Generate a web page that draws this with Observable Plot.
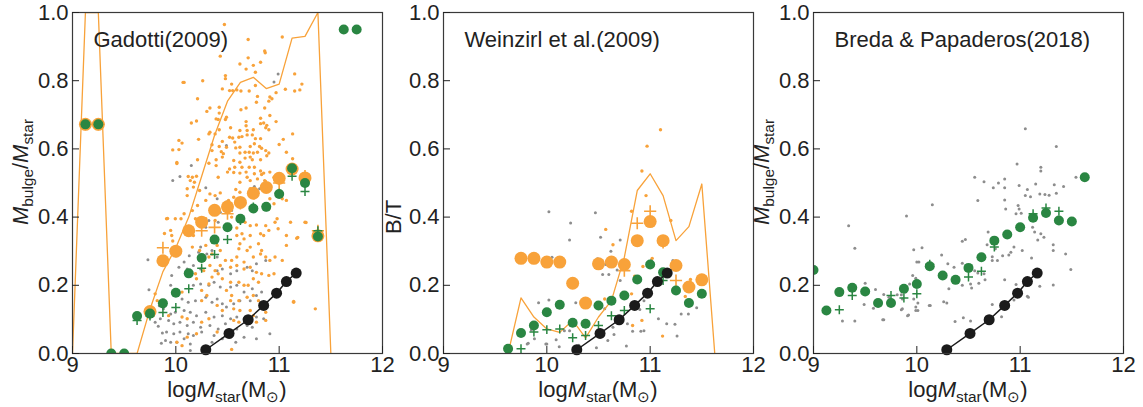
<!DOCTYPE html>
<html><head><meta charset="utf-8">
<script src="https://cdn.jsdelivr.net/npm/d3@7"></script>
<script src="https://cdn.jsdelivr.net/npm/@observablehq/plot@0.6"></script>
<style>
body{margin:0;background:#fff;}
#chart{position:relative;width:1143px;height:407px;overflow:hidden;background:#fff;}
#chart svg{position:absolute;top:0;}
</style></head><body><div id="chart"></div>
<script>
// ---------- shared ----------
const xTicks = [9, 10, 11, 12];
const yTicks = [0, 0.2, 0.4, 0.6, 0.8, 1.0];
const titles = ["Gadotti(2009)", "Weinzirl et al.(2009)", "Breda & Papaderos(2018)"];
const blackX = [10.29, 10.515, 10.70, 10.85, 10.975, 11.07, 11.165];
const blackY = [0.011, 0.059, 0.099, 0.141, 0.177, 0.211, 0.236];

// ---------- Gadotti (2009) ----------
const gadLineX = [9.0, 9.125, 9.25, 9.375, 9.5, 9.625, 9.75, 9.875, 10.0, 10.125, 10.25, 10.375, 10.5, 10.625, 10.75, 10.875, 11.0, 11.125, 11.25, 11.375, 11.5];
const gadLineY = [0, 1.0, 1.0, 0, 0, 0, 0.13, 0.24, 0.31, 0.40, 0.52, 0.64, 0.74, 0.795, 0.81, 0.777, 0.79, 0.925, 0.93, 1.0, 0];
const gadOMeanX = [9.125, 9.25, 9.75, 9.875, 10.0, 10.125, 10.25, 10.375, 10.5, 10.625, 10.75, 10.875, 11.0, 11.125, 11.25, 11.375];
const gadOMeanY = [0.672, 0.672, 0.123, 0.272, 0.30, 0.36, 0.385, 0.42, 0.43, 0.443, 0.47, 0.487, 0.514, 0.541, 0.515, 0.345];
const gadOMedX = [9.125, 9.25, 9.75, 9.875, 10.0, 10.125, 10.25, 10.375, 10.5, 10.625, 10.75, 10.875, 11.0, 11.125, 11.25, 11.375];
const gadOMedY = [0.672, 0.672, 0.12, 0.31, 0.30, 0.36, 0.36, 0.37, 0.41, 0.44, 0.47, 0.49, 0.50, 0.54, 0.52, 0.36];
const gadGMeanX = [9.125, 9.25, 9.375, 9.5, 9.625, 9.75, 9.875, 10.0, 10.125, 10.25, 10.375, 10.5, 10.625, 10.75, 10.875, 11.0, 11.125, 11.25, 11.375, 11.625, 11.75];
const gadGMeanY = [0.672, 0.672, 0, 0, 0.11, 0.117, 0.147, 0.178, 0.235, 0.28, 0.334, 0.37, 0.395, 0.425, 0.43, 0.468, 0.543, 0.50, 0.343, 0.95, 0.95];
const gadGMedX = [9.625, 9.75, 9.875, 10.0, 10.125, 10.25, 10.375, 10.5, 10.625, 10.75, 10.875, 11.0, 11.125, 11.25, 11.375];
const gadGMedY = [0.097, 0.11, 0.12, 0.135, 0.19, 0.25, 0.29, 0.334, 0.39, 0.43, 0.43, 0.47, 0.52, 0.475, 0.36];
const gadOrangePts = [[10.47,0.965],[10.70,0.921],[11.03,0.928],[10.86,0.887],[10.865,0.882],[10.43,0.872],[10.70,0.867],[10.62,0.849],[10.82,0.854],[10.75,0.845],[10.68,0.834],[10.77,0.825],[10.48,0.815],[10.48,0.806],[11.15,0.82],[10.26,0.80],[10.08,0.795],[10.54,0.79],[11.22,0.79],[10.45,0.776],[10.52,0.771],[10.55,0.771],[10.59,0.773],[10.63,0.77],[10.71,0.77],[10.77,0.786],[11.06,0.775],[11.15,0.77],[11.20,0.773],[10.97,0.765],[10.79,0.754],[10.91,0.752],[10.93,0.747],[10.90,0.74],[10.21,0.747],[10.78,0.737],[10.33,0.72],[10.30,0.71],[10.42,0.722],[10.42,0.705],[10.68,0.72],[10.63,0.715],[10.86,0.72],[10.91,0.698],[10.39,0.688],[10.41,0.686],[10.49,0.693],[10.48,0.686],[10.82,0.69],[10.97,0.68],[10.20,0.682],[10.15,0.676],[10.68,0.68],[10.68,0.668],[10.82,0.674],[10.85,0.676],[10.88,0.669],[10.87,0.662],[10.53,0.662],[10.62,0.654],[10.69,0.654],[10.42,0.656],[10.38,0.644],[10.75,0.656],[10.33,0.649],[10.32,0.644],[10.90,0.656],[11.13,0.644],[10.61,0.634],[10.64,0.636],[10.69,0.641],[10.74,0.641],[10.52,0.634],[10.55,0.632],[10.77,0.63],[10.82,0.63],[11.04,0.628],[10.03,0.625],[10.06,0.617],[10.22,0.628],[10.57,0.62],[10.58,0.603],[10.35,0.612],[10.45,0.622],[10.42,0.607],[10.49,0.605],[10.62,0.605],[10.72,0.607],[10.76,0.615],[10.81,0.607],[10.83,0.602],[11.00,0.613],[9.97,0.597],[10.35,0.595],[10.44,0.592],[10.46,0.586],[10.45,0.576],[10.62,0.588],[10.67,0.59],[10.71,0.59],[10.75,0.588],[10.79,0.59],[10.87,0.595],[10.90,0.588],[10.88,0.58],[11.07,0.59],[10.01,0.56],[10.21,0.568],[10.32,0.558],[10.39,0.568],[10.39,0.551],[10.56,0.566],[10.57,0.546],[10.52,0.541],[10.62,0.561],[10.67,0.573],[10.72,0.576],[10.74,0.568],[10.82,0.568],[10.64,0.546],[10.71,0.546],[10.68,0.532],[10.76,0.546],[10.76,0.527],[10.82,0.535],[10.85,0.529],[10.91,0.532],[11.13,0.571],[10.12,0.519],[10.16,0.517],[10.20,0.52],[10.14,0.507],[10.18,0.502],[10.41,0.517],[10.50,0.532],[10.56,0.531],[10.62,0.529],[10.69,0.517],[10.62,0.502],[10.72,0.507],[10.83,0.525],[10.79,0.512],[10.86,0.507],[10.95,0.517],[11.0,0.5],[11.03,0.509],
[10.17,0.488],[10.11,0.483],[10.23,0.478],[10.11,0.463],[10.58,0.481],[10.62,0.473],[10.72,0.483],[10.77,0.481],[10.33,0.468],[10.38,0.463],[10.43,0.471],[10.29,0.449],[10.51,0.449],[10.56,0.458],[10.91,0.454],[10.95,0.439],[11.03,0.454],[11.07,0.449],[10.90,0.424],[10.21,0.434],[10.16,0.419],[10.08,0.41],[9.91,0.395],[9.995,0.395],[10.05,0.395],[10.19,0.395],[10.29,0.395],[10.38,0.39],[10.54,0.4],[10.61,0.395],[10.67,0.385],[10.72,0.375],[10.78,0.377],[10.98,0.395],[10.96,0.385],[10.99,0.366],[11.11,0.385],[11.25,0.385],[10.87,0.375],[10.90,0.361],[10.82,0.351],[10.85,0.346],[10.59,0.368],[10.64,0.351],[10.59,0.346],[10.66,0.336],[10.72,0.346],[9.95,0.361],[9.96,0.346],[10.17,0.346],[11.07,0.346],[11.17,0.338],[11.07,0.317],[10.16,0.312],[10.23,0.302],[10.29,0.317],[10.40,0.317],[10.43,0.302],[10.62,0.322],[10.61,0.307],[10.69,0.302],[10.72,0.312],[10.80,0.322],[10.83,0.302],[10.35,0.292],[10.32,0.283],[10.48,0.273],[10.43,0.258],[10.54,0.273],[10.59,0.283],[10.66,0.268],[10.75,0.283],[10.82,0.292],[10.87,0.283],[10.91,0.273],[10.96,0.283],[11.03,0.273],[10.33,0.258],[10.38,0.243],[10.41,0.234],[10.35,0.224],[10.53,0.253],[10.59,0.258],[10.66,0.248],[10.72,0.253],[10.78,0.238],[10.83,0.234],[10.90,0.229],[10.95,0.234],[10.19,0.234],[10.27,0.243],[10.20,0.219],[10.32,0.204],[10.45,0.219],[10.53,0.209],[10.61,0.209],[10.66,0.2],[10.70,0.2],[10.75,0.219],[10.80,0.209],[9.80,0.175],[9.82,0.155],[10.06,0.18],[10.25,0.185],[10.30,0.17],[10.25,0.155],[10.49,0.185],[10.54,0.17],[10.53,0.155],[10.61,0.155],[10.69,0.165],[10.75,0.17],[10.80,0.155],[11.14,0.153],[10.40,0.141],[10.45,0.126],[10.56,0.131],[10.62,0.126],[10.72,0.126],[10.75,0.111],[10.87,0.121],[11.35,0.131],[9.93,0.111],[10.06,0.107],[10.11,0.102],[10.25,0.092],[10.32,0.102],[10.56,0.097],[10.61,0.092],[10.78,0.092],[10.87,0.097],[10.01,0.033],[10.06,0.023],[10.11,0.048],[10.20,0.058],[10.40,0.063],[10.54,0.012],
[9.92,0.396],[9.89,0.352],[9.97,0.33],[11.26,0.384],[11.18,0.34],[11.14,0.15],[10.07,0.795],[10.03,0.598],[10.01,0.557],[9.25,0.672]];
const gadGrayPts = [[10.99,0.82],[10.95,0.796],[10.49,0.61],[10.15,0.551],[10.04,0.519],[9.97,0.507],[10.29,0.486],[10.76,0.49],[10.81,0.483],
[10.40,0.454],[10.49,0.444],[10.43,0.414],[10.54,0.419],[10.41,0.385],[10.32,0.39],[10.29,0.37],[10.24,0.312],[10.13,0.287],[10.08,0.268],[10.22,0.297],[10.30,0.292],[10.35,0.302],[10.40,0.283],[10.01,0.287],[10.03,0.253],[9.96,0.229],[9.95,0.2],[10.11,0.248],[10.17,0.258],[10.24,0.248],[10.40,0.243],[10.45,0.248],[10.53,0.234],[10.59,0.243],[10.69,0.253],[10.74,0.243],[10.78,0.263],[10.87,0.273],[10.17,0.2],[10.24,0.204],[10.32,0.2],[10.37,0.209],[10.43,0.195],[10.53,0.195],[10.59,0.2],[10.66,0.18],[10.74,0.19],[10.06,0.16],[10.12,0.15],[10.19,0.155],[10.29,0.165],[10.35,0.15],[10.40,0.16],[10.45,0.146],[10.49,0.136],[10.56,0.146],[10.62,0.155],[10.72,0.155],[10.78,0.17],[10.83,0.18],[9.88,0.131],[9.95,0.116],[9.995,0.121],[10.08,0.126],[10.14,0.121],[10.20,0.111],[10.29,0.121],[10.37,0.107],[10.45,0.111],[10.53,0.102],[10.59,0.107],[10.66,0.102],[10.78,0.107],[10.85,0.102],[9.80,0.092],[9.85,0.102],[9.93,0.097],[9.98,0.087],[10.04,0.092],[10.11,0.082],[10.17,0.092],[10.24,0.077],[10.33,0.082],[10.41,0.072],[10.48,0.087],[10.59,0.072],[10.69,0.082],[10.74,0.077],[10.91,0.058],[9.91,0.063],[9.98,0.058],[10.04,0.063],[10.12,0.058],[10.17,0.053],[10.25,0.063],[10.37,0.053],[10.45,0.043],[10.53,0.048],[10.58,0.033],[10.66,0.048],[10.78,0.043],[9.90,0.038],[9.95,0.033],[10.01,0.033],[10.08,0.043],[10.14,0.028],[10.35,0.033],[10.14,0.009],[10.30,0.014],
[9.73,0.275],[9.74,0.187],[9.84,0.14],[9.87,0.06],[9.86,0.03],[9.83,0.08]];

// ---------- Weinzirl et al. (2009) ----------
const wzLineX = [9.625, 9.75, 9.875, 10.0, 10.125, 10.25, 10.375, 10.5, 10.625, 10.75, 10.875, 11.0, 11.125, 11.25, 11.375, 11.5, 11.625];
const wzLineY = [0, 0.163, 0.107, 0.072, 0.062, 0.097, 0.046, 0.107, 0.155, 0.282, 0.478, 0.527, 0.463, 0.331, 0.372, 0.497, 0];
const wzOMeanX = [9.75, 9.875, 10.0, 10.125, 10.25, 10.375, 10.5, 10.625, 10.75, 10.875, 11.0, 11.125, 11.25, 11.375, 11.5];
const wzOMeanY = [0.279, 0.279, 0.268, 0.268, 0.206, 0.148, 0.263, 0.268, 0.261, 0.331, 0.387, 0.331, 0.258, 0.195, 0.216];
const wzOMedX = [10.75, 10.875, 11.0, 11.125, 11.25];
const wzOMedY = [0.243, 0.382, 0.417, 0.326, 0.214];
const wzGMeanX = [9.625, 9.75, 9.875, 10.0, 10.125, 10.25, 10.375, 10.5, 10.625, 10.75, 10.875, 11.0, 11.125, 11.25, 11.375, 11.5];
const wzGMeanY = [0.014, 0.06, 0.082, 0.121, 0.143, 0.09, 0.087, 0.141, 0.155, 0.17, 0.217, 0.261, 0.238, 0.185, 0.148, 0.175];
const wzGMedX = [9.75, 9.875, 10.0, 10.125, 10.25, 10.375, 10.5, 10.625, 10.75, 11.0, 11.125];
const wzGMedY = [0.014, 0.063, 0.07, 0.072, 0.046, 0.053, 0.082, 0.111, 0.126, 0.131, 0.214];
const wzOrangePts = [[11.10,0.656],[10.97,0.608],[10.92,0.535],[10.96,0.463],[10.82,0.417],[10.57,0.364],[10.64,0.319],[11.20,0.39],[10.93,0.255],[11.02,0.279],[10.85,0.227],[10.56,0.16],[10.92,0.097],[10.83,0.082],[11.12,0.051],[11.34,0.167],[11.12,0.243],[11.26,0.185],[10.82,0.175],[11.39,0.217]];
const wzGrayPts = [[10.02,0.416],[10.47,0.413],[10.23,0.383],[10.22,0.333],[10.52,0.341],[10.71,0.333],[10.62,0.3],[10.05,0.282],[10.49,0.278],[10.54,0.232],[10.60,0.232],[10.68,0.245],[10.78,0.251],[10.57,0.261],[10.71,0.214],[9.92,0.149],[10.02,0.157],[10.28,0.149],[10.17,0.067],[10.22,0.067],[10.09,0.04],[10.12,0.02],[9.85,0.069],[9.88,0.043],[9.82,0.03],[9.99,0.028],[10.31,0.024],[10.48,0.017],[10.59,0.038],[10.65,0.056],[10.64,0.077],[10.56,0.131],[10.62,0.16],[10.78,0.087],[10.83,0.065],[10.91,0.065],[10.94,0.067],[10.90,0.129],[10.94,0.155],[10.77,0.022],[11.08,0.102],[11.16,0.087],[11.24,0.086],[11.26,0.051],[11.30,0.116],[11.37,0.116],[11.45,0.134],[11.22,0.273],[11.01,0.273],[9.81,0.028],[10.0,0.028]];

// ---------- Breda & Papaderos (2018) ----------
const bpGMeanX = [9.0, 9.125, 9.25, 9.375, 9.5, 9.625, 9.75, 9.875, 10.0, 10.125, 10.25, 10.375, 10.5, 10.625, 10.75, 10.875, 11.0, 11.125, 11.25, 11.375, 11.5, 11.625];
const bpGMeanY = [0.245, 0.126, 0.18, 0.193, 0.182, 0.148, 0.148, 0.19, 0.204, 0.256, 0.229, 0.216, 0.251, 0.282, 0.331, 0.349, 0.37, 0.398, 0.412, 0.39, 0.387, 0.517];
const bpGMedX = [9.25, 9.375, 9.75, 9.875, 10.0, 10.125, 10.5, 10.625, 10.75, 11.125, 11.25, 11.375];
const bpGMedY = [0.128, 0.17, 0.17, 0.163, 0.175, 0.262, 0.224, 0.241, 0.312, 0.41, 0.427, 0.417];
const bpGrayPts = [[11.05,0.659],[11.35,0.607],[10.97,0.556],[11.20,0.546],[11.20,0.535],[10.56,0.517],[10.65,0.504],[10.74,0.486],[10.79,0.5],[10.85,0.512],[10.85,0.486],[10.99,0.493],[11.07,0.481],[11.15,0.497],[11.33,0.495],[11.42,0.49],[11.54,0.517],[11.05,0.463],[11.10,0.46],[11.19,0.468],[11.24,0.466],[11.28,0.464],[11.35,0.47],[10.15,0.436],[10.59,0.449],[10.85,0.45],[10.86,0.424],[10.98,0.434],[10.99,0.424],[11.01,0.411],[10.96,0.41],[9.90,0.403],[11.12,0.37],[11.14,0.356],[11.20,0.351],[11.23,0.341],[11.17,0.333],[10.69,0.356],[10.73,0.339],[10.68,0.319],[10.44,0.329],[10.47,0.334],[9.97,0.304],[10.05,0.31],[10.24,0.289],[10.76,0.307],[10.73,0.284],[10.83,0.287],[10.89,0.289],[10.94,0.312],[10.91,0.297],[11.02,0.302],[11.11,0.28],[11.32,0.319],[11.32,0.302],[11.44,0.292],[10.02,0.268],[10.30,0.263],[10.36,0.253],[10.44,0.265],[10.56,0.243],[10.59,0.236],[10.65,0.234],[10.73,0.273],[10.78,0.273],[10.85,0.216],[11.49,0.246],[9.96,0.229],[9.99,0.221],[9.93,0.204],[9.89,0.18],[9.86,0.16],[10.31,0.19],[10.44,0.2],[10.52,0.204],[10.53,0.192],[10.60,0.206],[10.66,0.216],[10.96,0.202],[11.07,0.168],[11.19,0.197],[11.32,0.201],[9.68,0.173],[9.81,0.172],[9.85,0.172],[9.97,0.16],[10.01,0.148],[9.99,0.136],[10.01,0.126],[10.13,0.141],[10.26,0.152],[10.29,0.148],[9.85,0.128],[9.92,0.113],[9.68,0.099],[10.37,0.094],[10.45,0.105],[10.52,0.095],[10.73,0.144],[10.82,0.108],[10.94,0.157],[11.08,0.165],[9.34,0.375],[9.40,0.309],[9.28,0.095],[9.40,0.095],[9.50,0.206],[9.60,0.188],[9.49,0.144],[9.58,0.133],[9.67,0.099],[9.73,0.165],[9.86,0.131],[9.91,0.111],[10.0,0.268],[9.99,0.126],[10.12,0.141]];

// ---------- drawing ----------
const ORANGE = "#f8a23a", GREEN = "#2a8642", GRAY = "#8d8d8d", BLACK = "#1b1b1b", INK = "#222";
const FONT = "'Liberation Sans', Arial, Helvetica, sans-serif";
const pairs = (xs, ys) => xs.map((x, i) => ({x, y: ys[i]}));
const pts = a => a.map(([x, y]) => ({x, y}));

function richText(sel, parts, size) {
  let shifted = 0;
  parts.forEach(p => {
    const t = sel.append("tspan").text(p.t);
    if (p.i) t.attr("font-style", "italic");
    if (p.sub) {
      t.attr("font-size", size * 0.7);
      const d = size * 0.22 - shifted; shifted = size * 0.22;
      if (d) t.attr("dy", d);
    } else {
      if (shifted) { t.attr("dy", -shifted); shifted = 0; }
    }
  });
}

function panel(cfg) {
  const ML = 72, MR = 10, W = 310;
  const marks = [];
  marks.push(Plot.dot(pts(cfg.gray), {x: "x", y: "y", r: 1.5, fill: GRAY, clip: true}));
  if (cfg.orange) marks.push(Plot.dot(pts(cfg.orange), {x: "x", y: "y", r: 1.7, fill: ORANGE, clip: true}));
  if (cfg.lineX) marks.push(Plot.line(pairs(cfg.lineX, cfg.lineY), {x: "x", y: "y", stroke: ORANGE, strokeWidth: 1.3, clip: true}));
  if (cfg.oMeanX) marks.push(Plot.dot(pairs(cfg.oMeanX, cfg.oMeanY), {x: "x", y: "y", r: 6.5, fill: ORANGE, clip: true}));
  if (cfg.oMedX) marks.push(Plot.dot(pairs(cfg.oMedX, cfg.oMedY), {x: "x", y: "y", symbol: "plus", r: 4, stroke: ORANGE, strokeWidth: 1.6, clip: true}));
  marks.push(Plot.dot(pairs(cfg.gMeanX, cfg.gMeanY), {x: "x", y: "y", r: 5, fill: GREEN, clip: true}));
  marks.push(Plot.dot(pairs(cfg.gMedX, cfg.gMedY), {x: "x", y: "y", symbol: "plus", r: 3, stroke: GREEN, strokeWidth: 1.5, clip: true}));
  marks.push(Plot.line(pairs(blackX, blackY), {x: "x", y: "y", stroke: BLACK, strokeWidth: 1.5}));
  marks.push(Plot.dot(pairs(blackX, blackY), {x: "x", y: "y", r: 5.5, fill: BLACK}));
  marks.push(Plot.frame({stroke: "#3a3a3a", strokeWidth: 1.2}));
  marks.push(Plot.axisX(xTicks, {tickSize: 7, dy: -7, tickPadding: 3, tickFormat: d => String(d), label: null, fontSize: 22}));
  marks.push(Plot.axisY(yTicks, {tickSize: 7, dx: 7, tickPadding: 4, tickFormat: d3.format(".1f"), label: null, fontSize: 22}));
  marks.push(Plot.text([cfg.title], {text: d => d, frameAnchor: "top-left", dx: 21, dy: 19, lineAnchor: "top", textAnchor: "start", fontSize: 22, fill: INK}));

  const svg = Plot.plot({
    width: ML + W + MR, height: 407,
    marginLeft: ML, marginRight: MR, marginTop: 12, marginBottom: 54,
    style: {background: "transparent", fontFamily: FONT, fontSize: "22px", color: INK, overflow: "visible"},
    x: {domain: [9, 12], label: null},
    y: {domain: [0, 1], label: null},
    marks
  });
  svg.style.left = (cfg.axisLeft - ML) + "px";
  const s = d3.select(svg);
  // x label
  const xl = s.append("text").attr("x", ML + W / 2).attr("y", 397).attr("text-anchor", "middle")
    .attr("font-size", 22).attr("fill", INK).attr("font-family", FONT);
  richText(xl, [{t: "log"}, {t: "M", i: true}, {t: "star", sub: true}, {t: "(M"}, {t: "\u2299", sub: true}, {t: ")"}], 22);
  // y label
  const yl = s.append("text").attr("transform", `translate(${cfg.ylabX},${cfg.ylabY}) rotate(-90)`)
    .attr("text-anchor", "middle").attr("font-size", 22).attr("fill", INK).attr("font-family", FONT);
  richText(yl, cfg.ylab, 22);
  document.getElementById("chart").appendChild(svg);
}

const mlabel = [{t: "M", i: true}, {t: "bulge", sub: true}, {t: "/"}, {t: "M", i: true}, {t: "star", sub: true}];

panel({axisLeft: 72, title: titles[0], gray: gadGrayPts, orange: gadOrangePts, lineX: gadLineX, lineY: gadLineY,
  oMeanX: gadOMeanX, oMeanY: gadOMeanY, oMedX: gadOMedX, oMedY: gadOMedY,
  gMeanX: gadGMeanX, gMeanY: gadGMeanY, gMedX: gadGMedX, gMedY: gadGMedY,
  ylab: mlabel, ylabX: 28, ylabY: 172});
panel({axisLeft: 443, title: titles[1], gray: wzGrayPts, orange: wzOrangePts, lineX: wzLineX, lineY: wzLineY,
  oMeanX: wzOMeanX, oMeanY: wzOMeanY, oMedX: wzOMedX, oMedY: wzOMedY,
  gMeanX: wzGMeanX, gMeanY: wzGMeanY, gMedX: wzGMedX, gMedY: wzGMedY,
  ylab: [{t: "B/T"}], ylabX: 30, ylabY: 217});
panel({axisLeft: 813, title: titles[2], gray: bpGrayPts,
  gMeanX: bpGMeanX, gMeanY: bpGMeanY, gMedX: bpGMedX, gMedY: bpGMedY,
  ylab: mlabel, ylabX: 28, ylabY: 172});
</script></body></html>
